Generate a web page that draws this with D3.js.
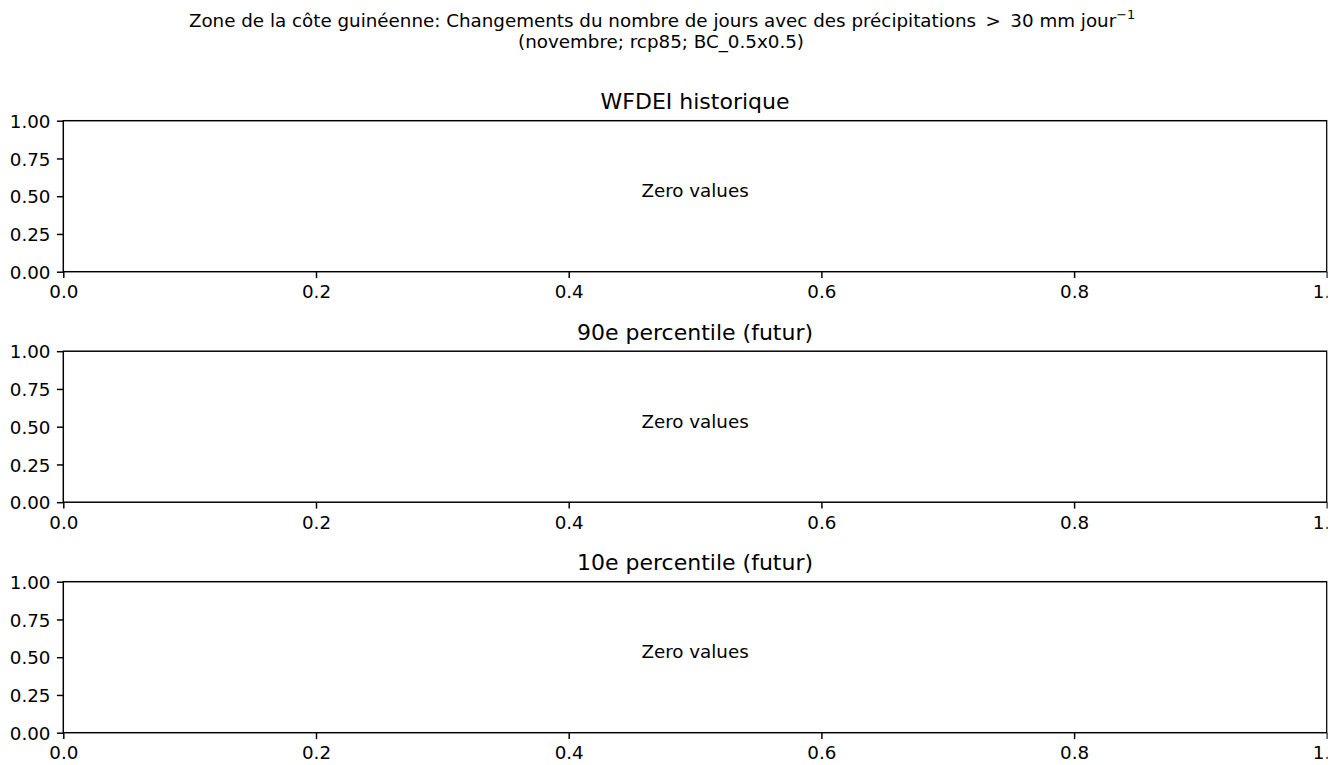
<!DOCTYPE html>
<html>
<head>
<meta charset="utf-8">
<script src="https://cdn.jsdelivr.net/npm/d3@7"></script>
<style>
  html, body { margin: 0; padding: 0; background: #fff; }
  svg { display: block; font-family: "DejaVu Sans", sans-serif; }
</style>
</head>
<body>
<svg id="chart" width="1341" height="765"></svg>
<script>
// ---- data ----
const suptitleLine1 = "Zone de la côte guinéenne: Changements du nombre de jours avec des précipitations \u2009>\u2009 30 mm jour";
const suptitleSup = "\u22121";
const suptitleLine2 = "(novembre; rcp85; BC_0.5x0.5)";
const panelTitles = ["WFDEI historique", "90e percentile (futur)", "10e percentile (futur)"];
const panelMessages = ["Zero values", "Zero values", "Zero values"];
const xDomain = [0, 1];
const yDomain = [0, 1];
const xTicks = [0.0, 0.2, 0.4, 0.6, 0.8, 1.0];
const yTicks = [0.0, 0.25, 0.5, 0.75, 1.0];

// ---- layout ----
const W = 1341, H = 765;
const left = 63.3, right = 1326.8;
const panelTops = [120.7, 351.2, 581.7];
const panelH = 151;
const fs = 18.3, titleFs = 22;
const lw = 1.47, tickLen = 6.4, pad = 6.4;

const svg = d3.select("#chart");
svg.append("defs").append("clipPath").attr("id", "figclip")
  .append("rect").attr("x", 0).attr("y", 0).attr("width", 1327.6).attr("height", H);
const root = svg.append("g").attr("clip-path", "url(#figclip)");

// suptitle
const st = root.append("text")
  .attr("x", 662).attr("y", 26.7)
  .attr("text-anchor", "middle")
  .attr("font-size", fs).attr("fill", "#000")
  .attr("xml:space", "preserve");
st.append("tspan").text(suptitleLine1);
st.append("tspan").attr("font-size", fs * 0.7).attr("dy", -8).text(suptitleSup);
root.append("text")
  .attr("x", 661).attr("y", 48.3)
  .attr("text-anchor", "middle")
  .attr("font-size", fs).attr("fill", "#000")
  .text(suptitleLine2);

const x = d3.scaleLinear().domain(xDomain).range([left, right]);

panelTitles.forEach((title, i) => {
  const top = panelTops[i];
  const y = d3.scaleLinear().domain(yDomain).range([top + panelH, top]);
  const g = root.append("g");

  // frame
  g.append("rect")
    .attr("x", left).attr("y", top)
    .attr("width", right - left).attr("height", panelH)
    .attr("fill", "none").attr("stroke", "#000").attr("stroke-width", lw);

  // x axis
  const xa = g.append("g").attr("transform", `translate(0,${top + panelH})`)
    .call(d3.axisBottom(x).tickValues(xTicks).tickFormat(d3.format(".1f"))
      .tickSize(tickLen).tickPadding(pad));
  xa.select(".domain").remove();
  xa.selectAll(".tick line").attr("stroke", "#000").attr("stroke-width", lw);
  xa.selectAll(".tick text").attr("font-size", fs).attr("font-family", "DejaVu Sans")
    .attr("fill", "#000").attr("dy", "0.76em");

  // y axis
  const ya = g.append("g").attr("transform", `translate(${left},0)`)
    .call(d3.axisLeft(y).tickValues(yTicks).tickFormat(d3.format(".2f"))
      .tickSize(tickLen).tickPadding(pad));
  ya.select(".domain").remove();
  ya.selectAll(".tick line").attr("stroke", "#000").attr("stroke-width", lw);
  ya.selectAll(".tick text").attr("font-size", fs).attr("font-family", "DejaVu Sans")
    .attr("fill", "#000").attr("dy", "0.36em");

  // title
  g.append("text")
    .attr("x", (left + right) / 2).attr("y", top - 11.5)
    .attr("text-anchor", "middle")
    .attr("font-size", titleFs).attr("fill", "#000")
    .text(title);

  // message
  g.append("text")
    .attr("x", x(0.5)).attr("y", y(0.5) + 0.8)
    .attr("text-anchor", "middle")
    .attr("font-size", fs).attr("fill", "#000")
    .text(panelMessages[i]);
});
</script>
</body>
</html>
